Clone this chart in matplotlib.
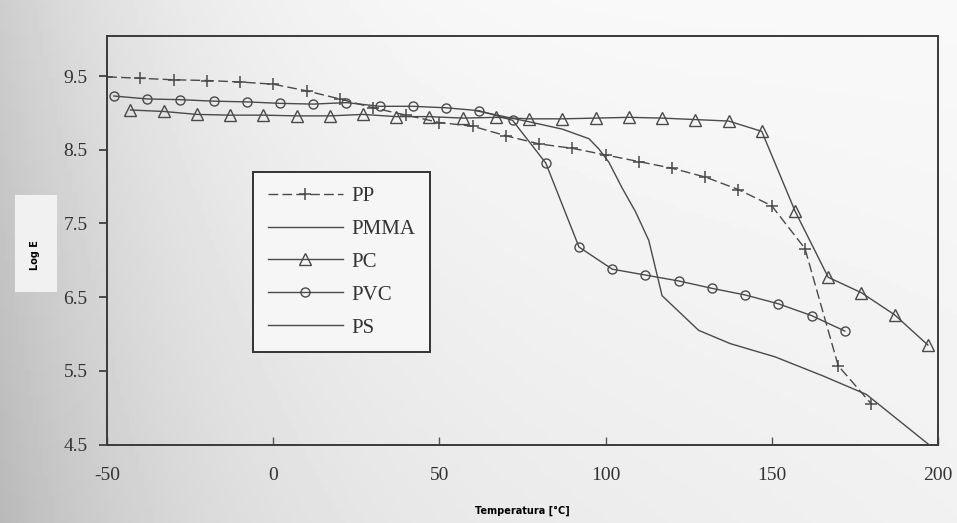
import matplotlib.pyplot as plt
import numpy as np
from matplotlib.patches import Rectangle

# values (log E vs temperature)
pp_t = [-50, -40, -30, -20, -10, 0, 10, 20, 30, 40, 50, 60, 70, 80, 90,
        100, 110, 120, 130, 140, 150, 160, 170, 180]
pp_e = [9.49, 9.47, 9.45, 9.44, 9.42, 9.39, 9.30, 9.19, 9.07, 8.97, 8.87,
        8.82, 8.69, 8.58, 8.52, 8.43, 8.34, 8.25, 8.13, 7.96, 7.74, 7.16, 5.57, 5.05]

pmma_t = [61, 77, 87, 95, 98, 101, 105, 109, 113, 117, 128, 137.5, 151, 165.5, 178.5, 197]
pmma_e = [9.03, 8.88, 8.78, 8.65, 8.51, 8.33, 7.98, 7.66, 7.27, 6.52, 6.05, 5.87,
          5.69, 5.43, 5.18, 4.51]

pc_t = [-43, -33, -23, -13, -3, 7, 17, 27, 37, 47, 57, 67, 77, 87, 97,
        107, 117, 127, 137, 147, 157, 167, 177, 187, 197]
pc_e = [9.04, 9.02, 8.98, 8.97, 8.97, 8.96, 8.96, 8.98, 8.95, 8.95, 8.93, 8.94,
        8.92, 8.92, 8.93, 8.94, 8.93, 8.91, 8.89, 8.75, 7.67, 6.77, 6.56, 6.26, 5.85]

pvc_t = [-48, -38, -28, -18, -8, 2, 12, 22, 32, 42, 52, 62, 72, 82, 92,
         102, 112, 122, 132, 142, 152, 162, 172]
pvc_e = [9.23, 9.19, 9.18, 9.16, 9.15, 9.13, 9.12, 9.14, 9.09, 9.09, 9.07, 9.03,
         8.90, 8.32, 7.18, 6.88, 6.80, 6.72, 6.62, 6.53, 6.41, 6.25, 6.04]

ps_t = []
ps_e = []

yticks = [4.5, 5.5, 6.5, 7.5, 8.5, 9.5]
xticks = [-50, 0, 50, 100, 150, 200]

serif = ['Liberation Serif', 'DejaVu Serif']
c = '#4a4a4a'

fig = plt.figure(figsize=(9.57, 5.23), dpi=100)
fig.patch.set_facecolor('#d8d8d8')

# scanned page look: soft grey shading, darker to the left and bottom
bg = fig.add_axes([0, 0, 1, 1], zorder=-10)
gx, gy = np.meshgrid(np.linspace(0, 1, 200), np.linspace(0, 1, 120))
shade = 0.975 - 0.17 * (1 - gx) ** 5 - 0.05 * gy * (1 - gx) - 0.03 * gy
bg.imshow(shade, cmap='gray', vmin=0, vmax=1, aspect='auto', extent=[0, 1, 0, 1])
bg.axis('off')

ax = fig.add_axes([0.112, 0.150, 0.868, 0.782])
ax.set_facecolor('none')

ax.plot(pp_t, pp_e, color=c, lw=1.0, ls=(0, (7, 3)), marker='+', ms=9, mew=1.1, label='PP')
ax.plot(pmma_t, pmma_e, color=c, lw=1.0, label='PMMA')
ax.plot(pc_t, pc_e, color=c, lw=1.0, marker='^', ms=8, mfc='none', mew=1.0, label='PC')
ax.plot(pvc_t, pvc_e, color=c, lw=1.0, marker='o', ms=6.5, mfc='none', mew=1.0, label='PVC')
ax.plot(ps_t, ps_e, color=c, lw=1.0, label='PS')

ax.set_xlim(-50, 200)
ax.set_ylim(4.5, 10.05)
ax.set_xticks(xticks)
ax.set_yticks(yticks)
ax.set_yticklabels([str(v) for v in yticks], family=serif, fontsize=14, color='#333333')
ax.set_xticklabels([str(v) for v in xticks], family=serif, fontsize=14, color='#333333')
ax.tick_params(axis='y', direction='out', length=6, width=1.2, color='#333333', pad=8)
ax.tick_params(axis='x', direction='in', length=6, width=1.0, color='#555555', pad=16)
for s in ax.spines.values():
    s.set_color('#3a3a3a')
    s.set_linewidth(1.4)

ax.set_xlabel('Temperatura [°C]', fontsize=7, fontweight='bold', labelpad=16)

# light label box on the left with the axis title
fig.patches.append(Rectangle((0.016, 0.442), 0.044, 0.185, transform=fig.transFigure,
                             facecolor='#f1f1f1', edgecolor='none', zorder=1))
fig.text(0.037, 0.512, 'Log E', rotation=90, fontsize=7, fontweight='bold',
         ha='center', va='center', zorder=2)

leg = ax.legend(loc='upper left', bbox_to_anchor=(0.176, 0.667), borderaxespad=0,
                prop={'family': serif, 'size': 15}, handlelength=3.6,
                labelspacing=0.64, handletextpad=0.4, borderpad=0.7,
                fancybox=False, frameon=True)
leg.get_frame().set_edgecolor('#333333')
leg.get_frame().set_linewidth(1.4)
leg.get_frame().set_facecolor('#f6f6f6')
leg.get_frame().set_alpha(None)
for t in leg.get_texts():
    t.set_color('#333333')

fig.savefig('out.png', dpi=100, facecolor=fig.get_facecolor())
